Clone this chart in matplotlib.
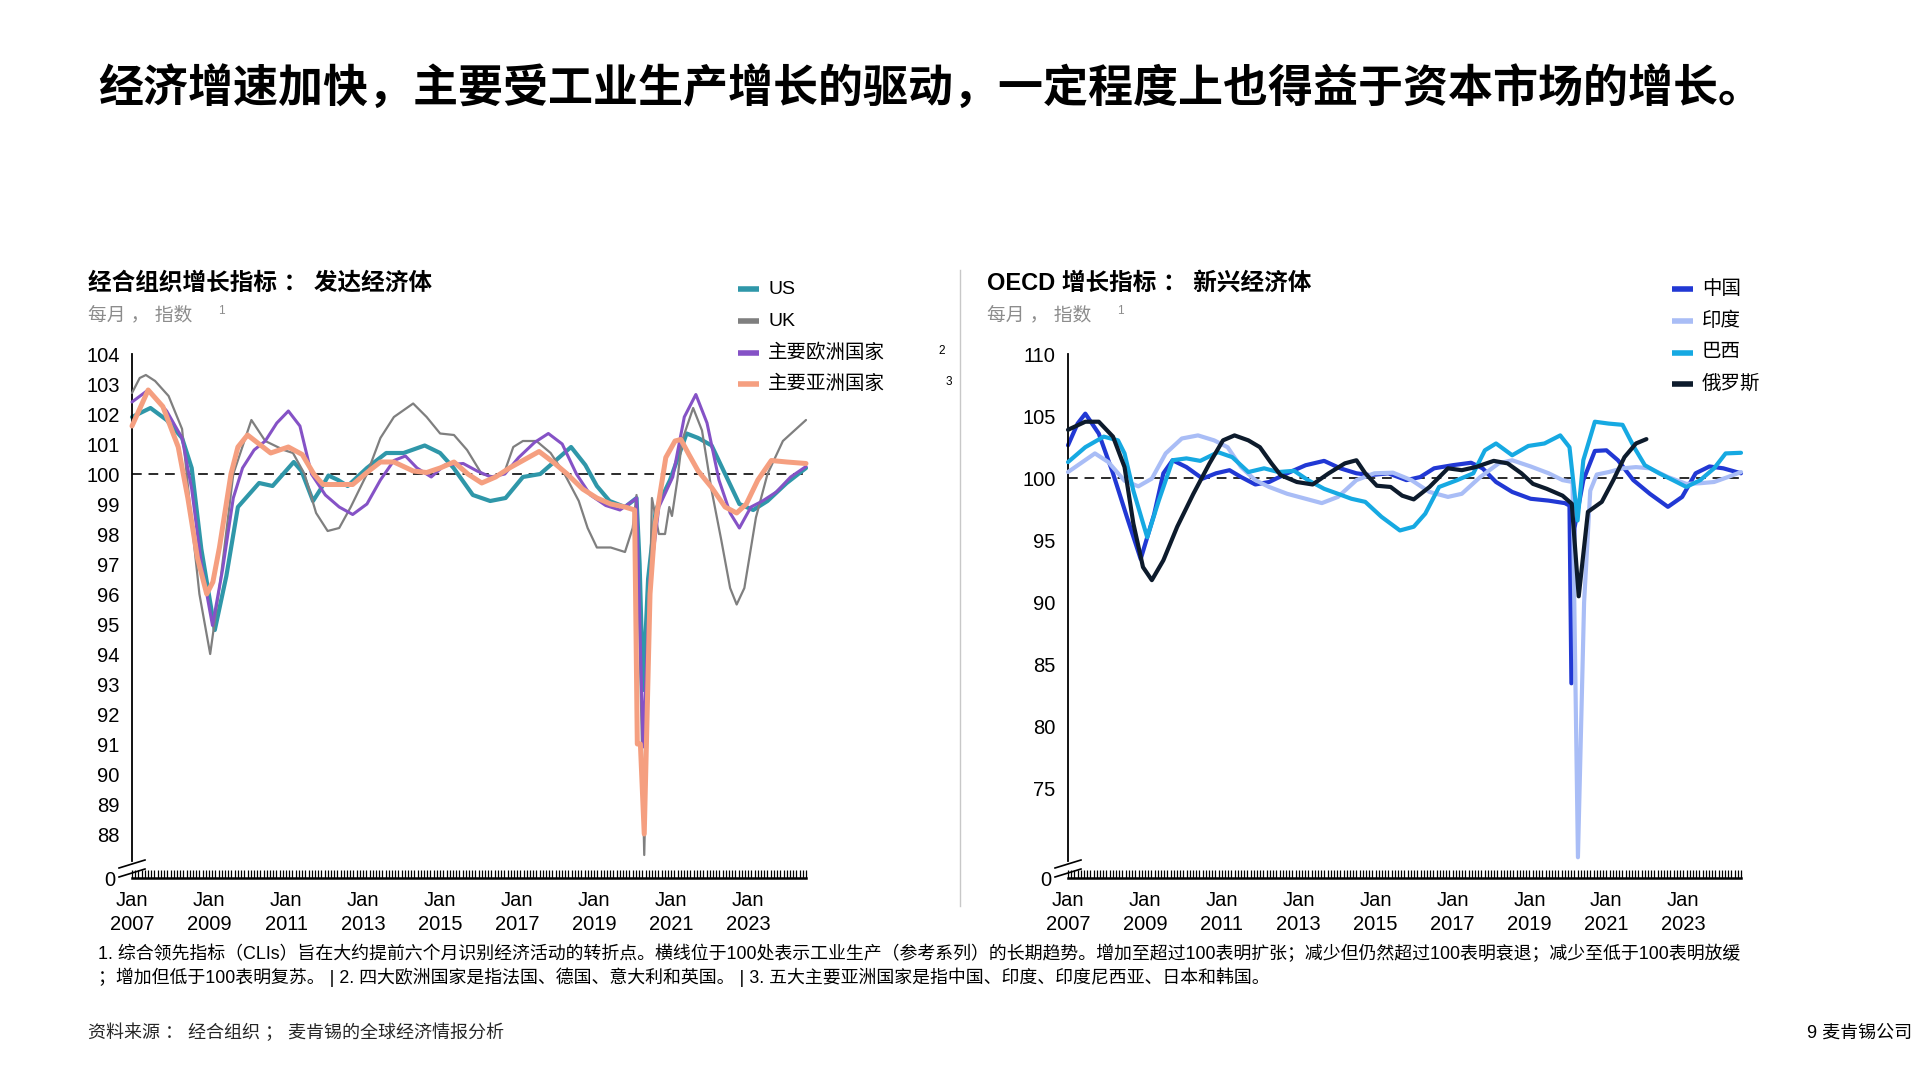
import matplotlib
matplotlib.use("Agg")
import matplotlib.pyplot as plt
from matplotlib.lines import Line2D
import numpy as np

plt.rcParams['font.family'] = ['Liberation Sans', 'Noto Sans CJK SC', 'DejaVu Sans']

W, H = 1920, 1080


def fx(x):
    return x / W


def fy(y):
    return 1 - y / H


title = '经济增速加快，主要受工业生产增长的驱动，一定程度上也得益于资本市场的增长。'
left_title = '经合组织增长指标 ： 发达经济体'
right_title = 'OECD 增长指标 ： 新兴经济体'
subtitle = '每月 ， 指数'
foot1 = ('1. 综合领先指标（CLIs）旨在大约提前六个月识别经济活动的转折点。横线位于100处表示工业生产（参考系列）的长期趋势。'
         '增加至超过100表明扩张；减少但仍然超过100表明衰退；减少至低于100表明放缓')
foot2 = '；增加但低于100表明复苏。 | 2. 四大欧洲国家是指法国、德国、意大利和英国。 | 3. 五大主要亚洲国家是指中国、印度、印度尼西亚、日本和韩国。'
source = '资料来源 ： 经合组织 ； 麦肯锡的全球经济情报分析'
page = '9 麦肯锡公司'

tick_years = list(range(2007, 2024, 2))
left_yticks = list(range(88, 105))
right_yticks = list(range(75, 111, 5))

# (decimal year, index value)
us = [(2007.0, 101.9), (2007.48, 102.2), (2007.9, 101.8), (2008.3, 101.2), (2008.55, 100.2), (2008.8, 97.5),
      (2009.15, 94.8), (2009.45, 96.6), (2009.75, 98.9), (2010.3, 99.7), (2010.65, 99.6), (2011.2, 100.4),
      (2011.4, 100.1), (2011.7, 99.1), (2011.9, 99.5), (2012.1, 99.95), (2012.35, 99.8), (2012.6, 99.6),
      (2013.1, 100.2), (2013.6, 100.7), (2014.05, 100.7), (2014.6, 100.95), (2015.0, 100.7), (2015.35, 100.2),
      (2015.85, 99.3), (2016.3, 99.1), (2016.7, 99.2), (2017.15, 99.9), (2017.6, 100.0), (2018.0, 100.45),
      (2018.4, 100.9), (2018.77, 100.3), (2019.07, 99.6), (2019.4, 99.1), (2019.8, 98.9), (2020.1, 99.2),
      (2020.18, 97.0), (2020.27, 92.8), (2020.4, 96.5), (2020.6, 98.8), (2020.97, 99.8), (2021.4, 101.35),
      (2021.7, 101.2), (2022.05, 100.95), (2022.4, 100.0), (2022.77, 99.0), (2023.13, 98.8), (2023.5, 99.1),
      (2024.0, 99.7), (2024.5, 100.2)]
uk = [(2007.0, 102.7), (2007.2, 103.2), (2007.36, 103.3), (2007.6, 103.1), (2007.95, 102.6), (2008.3, 101.5),
      (2008.5, 99.0), (2008.75, 96.0), (2009.03, 94.0), (2009.3, 96.5), (2009.63, 100.0), (2010.1, 101.8),
      (2010.46, 101.1), (2010.94, 100.8), (2011.18, 100.7), (2011.48, 100.0), (2011.78, 98.7), (2012.08, 98.1),
      (2012.38, 98.2), (2012.68, 98.9), (2013.1, 100.0), (2013.45, 101.2), (2013.8, 101.9), (2014.3, 102.35),
      (2014.65, 101.9), (2015.0, 101.35), (2015.36, 101.3), (2015.7, 100.8), (2016.08, 100.0), (2016.44, 99.9),
      (2016.68, 100.1), (2016.9, 100.9), (2017.15, 101.1), (2017.5, 101.1), (2017.87, 100.7), (2018.23, 100.0),
      (2018.6, 99.1), (2018.83, 98.2), (2019.07, 97.55), (2019.43, 97.55), (2019.8, 97.4), (2020.0, 98.2),
      (2020.1, 99.3), (2020.3, 87.3), (2020.5, 99.2), (2020.68, 98.0), (2020.84, 98.0), (2020.95, 98.9),
      (2021.02, 98.6), (2021.16, 99.8), (2021.28, 101.1), (2021.57, 102.2), (2021.8, 101.45), (2022.05, 99.45),
      (2022.3, 97.8), (2022.53, 96.2), (2022.7, 95.65), (2022.9, 96.2), (2023.2, 98.55), (2023.5, 100.0),
      (2023.9, 101.1), (2024.2, 101.45), (2024.5, 101.8)]
europe = [(2007.0, 102.4), (2007.42, 102.8), (2007.9, 102.1), (2008.3, 101.2), (2008.55, 99.5), (2008.8, 97.0),
          (2009.09, 94.95), (2009.35, 96.8), (2009.63, 99.2), (2009.87, 100.2), (2010.17, 100.8), (2010.46, 101.1),
          (2010.76, 101.7), (2011.06, 102.1), (2011.36, 101.6), (2011.66, 100.0), (2012.02, 99.3), (2012.38, 98.9),
          (2012.73, 98.65), (2013.1, 99.0), (2013.45, 99.8), (2013.8, 100.45), (2014.1, 100.6), (2014.4, 100.2),
          (2014.77, 99.9), (2015.12, 100.3), (2015.6, 100.35), (2015.96, 100.1), (2016.32, 99.9), (2016.68, 100.0),
          (2017.04, 100.55), (2017.45, 101.05), (2017.81, 101.35), (2018.17, 101.0), (2018.54, 100.0),
          (2018.9, 99.3), (2019.3, 98.95), (2019.67, 98.8), (2020.0, 99.1), (2020.1, 99.2), (2020.27, 90.9),
          (2020.45, 96.5), (2020.68, 98.9), (2021.04, 99.9), (2021.34, 101.9), (2021.64, 102.65), (2021.93, 101.7),
          (2022.24, 99.8), (2022.53, 98.7), (2022.77, 98.2), (2023.07, 98.9), (2023.37, 99.1), (2023.73, 99.4),
          (2024.1, 99.9), (2024.5, 100.25)]
asia = [(2007.0, 101.6), (2007.42, 102.8), (2007.8, 102.25), (2008.2, 100.9), (2008.45, 99.2), (2008.7, 97.2),
        (2008.94, 96.0), (2009.1, 96.4), (2009.27, 97.55), (2009.57, 100.0), (2009.75, 100.9), (2010.0, 101.3),
        (2010.3, 101.0), (2010.6, 100.7), (2011.06, 100.9), (2011.42, 100.65), (2011.72, 100.0), (2011.96, 99.65),
        (2012.38, 99.65), (2012.73, 99.65), (2013.1, 100.05), (2013.45, 100.4), (2013.8, 100.4), (2014.3, 100.1),
        (2014.65, 100.05), (2015.0, 100.2), (2015.36, 100.4), (2015.72, 100.0), (2016.08, 99.7), (2016.44, 99.9),
        (2016.8, 100.2), (2017.15, 100.45), (2017.57, 100.75), (2017.93, 100.4), (2018.3, 100.0), (2018.7, 99.5),
        (2019.07, 99.2), (2019.43, 99.0), (2019.8, 98.9), (2020.05, 98.8), (2020.12, 91.0), (2020.2, 91.0),
        (2020.3, 88.0), (2020.45, 96.0), (2020.58, 98.3), (2020.68, 99.1), (2020.86, 100.55), (2021.1, 101.1),
        (2021.25, 101.15), (2021.46, 100.65), (2021.7, 100.1), (2022.05, 99.55), (2022.4, 98.9), (2022.7, 98.7),
        (2022.95, 99.0), (2023.25, 99.8), (2023.6, 100.45), (2024.0, 100.4), (2024.5, 100.35)]

china = [(2007.0, 102.65), (2007.25, 104.4), (2007.45, 105.2), (2007.8, 103.6), (2008.17, 100.4), (2008.53, 96.9),
         (2008.89, 93.5), (2009.24, 97.1), (2009.48, 100.4), (2009.72, 101.45), (2010.08, 100.9), (2010.5, 99.97),
         (2010.85, 100.4), (2011.2, 100.65), (2011.5, 100.1), (2011.87, 99.5), (2012.23, 99.7), (2012.7, 100.4),
         (2013.18, 101.05), (2013.66, 101.4), (2014.08, 100.8), (2014.5, 100.4), (2014.85, 100.25), (2015.33, 100.4),
         (2015.8, 99.85), (2016.16, 100.1), (2016.52, 100.8), (2017.0, 101.05), (2017.48, 101.25), (2017.78, 100.8),
         (2018.13, 99.7), (2018.55, 98.9), (2019.03, 98.35), (2019.5, 98.2), (2019.92, 98.0), (2020.04, 97.8),
         (2020.09, 83.5), (2020.17, 96.0), (2020.4, 99.85), (2020.7, 102.2), (2021.0, 102.25), (2021.3, 101.45),
         (2021.7, 99.85), (2022.13, 98.75), (2022.6, 97.7), (2022.97, 98.5), (2023.32, 100.4), (2023.68, 100.95),
         (2024.04, 100.8), (2024.5, 100.4)]
india = [(2007.0, 100.5), (2007.7, 102.0), (2008.05, 101.3), (2008.47, 99.8), (2008.83, 99.35), (2009.18, 99.97),
         (2009.54, 102.0), (2009.96, 103.2), (2010.38, 103.45), (2010.8, 103.05), (2011.15, 102.5), (2011.5, 100.9),
         (2011.87, 99.85), (2012.23, 99.3), (2012.7, 98.75), (2013.18, 98.35), (2013.6, 98.0), (2014.02, 98.5),
         (2014.5, 99.85), (2014.97, 100.4), (2015.45, 100.45), (2015.93, 99.85), (2016.4, 98.9), (2016.88, 98.5),
         (2017.24, 98.75), (2017.72, 100.1), (2018.2, 101.2), (2018.55, 101.45), (2019.03, 100.95), (2019.5, 100.4),
         (2019.86, 99.85), (2020.12, 99.7), (2020.26, 69.5), (2020.42, 90.0), (2020.58, 99.0), (2020.75, 100.3),
         (2021.06, 100.5), (2021.42, 100.8), (2021.77, 100.9), (2022.13, 100.8), (2022.6, 100.1), (2023.08, 99.55),
         (2023.44, 99.6), (2023.8, 99.7), (2024.16, 100.1), (2024.5, 100.5)]
brazil = [(2007.0, 101.3), (2007.45, 102.5), (2007.93, 103.35), (2008.3, 103.05), (2008.47, 102.0), (2008.7, 99.0),
          (2009.06, 95.25), (2009.36, 98.2), (2009.72, 101.45), (2010.08, 101.6), (2010.44, 101.4), (2010.9, 102.1),
          (2011.27, 101.7), (2011.69, 100.5), (2012.1, 100.8), (2012.47, 100.5), (2012.88, 100.6), (2013.24, 99.85),
          (2013.66, 99.15), (2014.02, 98.75), (2014.37, 98.35), (2014.73, 98.1), (2015.15, 96.9), (2015.63, 95.8),
          (2015.99, 96.1), (2016.29, 97.15), (2016.65, 99.3), (2017.12, 99.85), (2017.54, 100.4), (2017.84, 102.25),
          (2018.13, 102.8), (2018.55, 101.85), (2018.97, 102.6), (2019.39, 102.8), (2019.8, 103.45), (2020.04, 102.5),
          (2020.25, 96.6), (2020.4, 101.45), (2020.7, 104.55), (2021.06, 104.4), (2021.42, 104.3), (2021.72, 102.5),
          (2022.0, 101.05), (2022.37, 100.4), (2022.73, 99.85), (2023.08, 99.3), (2023.44, 99.85), (2023.8, 100.8),
          (2024.1, 102.0), (2024.5, 102.05)]
russia = [(2007.0, 103.9), (2007.45, 104.55), (2007.8, 104.55), (2008.17, 103.35), (2008.47, 100.9), (2008.7, 96.35),
          (2008.95, 92.85), (2009.18, 91.8), (2009.48, 93.4), (2009.84, 96.1), (2010.26, 98.75), (2010.68, 101.2),
          (2011.03, 103.05), (2011.33, 103.45), (2011.69, 103.05), (2011.99, 102.5), (2012.29, 101.2), (2012.53, 100.25),
          (2012.95, 99.7), (2013.36, 99.5), (2013.78, 100.4), (2014.2, 101.2), (2014.5, 101.45), (2014.73, 100.4),
          (2015.03, 99.4), (2015.39, 99.3), (2015.69, 98.6), (2015.99, 98.3), (2016.4, 99.3), (2016.88, 100.8),
          (2017.24, 100.65), (2017.6, 100.9), (2018.07, 101.4), (2018.43, 101.2), (2018.79, 100.4), (2019.09, 99.55),
          (2019.45, 99.15), (2019.86, 98.6), (2020.1, 97.95), (2020.28, 90.5), (2020.52, 97.3), (2020.88, 98.1),
          (2021.18, 99.85), (2021.47, 101.7), (2021.77, 102.8), (2022.04, 103.15)]

# name, data, colour, line width, legend superscript
left_series = [('US', us, '#2f97a9', 3.0, ''), ('UK', uk, '#7f7f7f', 1.6, ''),
               ('主要欧洲国家', europe, '#8552c6', 2.2, '2'), ('主要亚洲国家', asia, '#f59f80', 3.6, '3')]
right_series = [('中国', china, '#2138d4', 3.0, ''), ('印度', india, '#a9bdf6', 3.0, ''),
                ('巴西', brazil, '#16a9e2', 3.0, ''), ('俄罗斯', russia, '#0d1b2c', 3.0, '')]
left_draw_order = [1, 0, 2, 3]
right_draw_order = [1, 2, 0, 3]

fig = plt.figure(figsize=(19.2, 10.8), dpi=100)

fig.text(fx(98), fy(88), title, fontsize=32.4, fontweight='bold', va='center')


def draw_panel(x0, x1, series, order, ylim, yticks, heading, head, legend_x):
    ax = fig.add_axes([fx(x0), fy(861), (x1 - x0) / W, (861 - 354) / H])
    ax.axhline(100, color='#2b2b2b', lw=1.4, ls=(0, (5, 3.5)), zorder=1)
    for i in order:
        name, pts, color, lw, sup = series[i]
        xs, ys = zip(*pts)
        ax.plot(xs, ys, color=color, lw=lw, solid_joinstyle='round', solid_capstyle='round',
                clip_on=False, zorder=2 + i)
    ax.set_xlim(2007, 2024.5)
    ax.set_ylim(*ylim)
    ax.set_yticks(yticks)
    ax.tick_params(axis='y', length=0, pad=9, labelsize=14.5)
    ax.set_xticks([])
    for s in ['top', 'right', 'bottom']:
        ax.spines[s].set_visible(False)
    ax.spines['left'].set_linewidth(1.3)
    ax.patch.set_alpha(0)

    # broken baseline with monthly comb
    axb = fig.add_axes([fx(x0), fy(878), (x1 - x0) / W, 8 / H])
    axb.set_xlim(2007, 2024.5)
    axb.set_ylim(0, 1)
    axb.set_xticks(np.arange(2007, 2024.5 + 1e-6, 1 / 12), minor=True)
    axb.set_xticks(tick_years)
    axb.set_xticklabels([f'Jan\n{y}' for y in tick_years], linespacing=1.35)
    axb.tick_params(axis='x', which='both', direction='in', length=6, width=0.9)
    axb.tick_params(axis='x', which='major', labelsize=14.5, pad=9)
    axb.set_yticks([0])
    axb.set_yticklabels(['0'])
    axb.tick_params(axis='y', length=0, pad=12, labelsize=14.5)
    for s in ['top', 'right', 'left']:
        axb.spines[s].set_visible(False)
    axb.spines['bottom'].set_linewidth(1.8)
    axb.patch.set_alpha(0)
    for y0, y1 in [(868, 860), (877, 869)]:
        fig.add_artist(Line2D([fx(x0 - 13), fx(x0 + 13)], [fy(y0), fy(y1)], color='black', lw=1.2))

    # headings
    fig.text(fx(head), fy(283), heading, fontsize=17, fontweight='bold', va='center')
    fig.text(fx(head), fy(315), subtitle, fontsize=13.5, color='#8c8c8c', va='center')
    fig.text(fx(head + 130), fy(311), '1', fontsize=8.5, color='#8c8c8c', va='center')

    # legend
    rows = [289, 321, 353, 384]
    for (name, pts, color, lw, sup), y in zip(series, rows):
        fig.add_artist(Line2D([fx(legend_x), fx(legend_x + 21)], [fy(y), fy(y)], color=color, lw=4,
                              solid_capstyle='butt'))
        fig.text(fx(legend_x + 30), fy(y), name, fontsize=14, va='center')
        if sup:
            fig.text(fx(legend_x + 200 + (8 if sup == '3' else 0)), fy(y - 2), sup, fontsize=8.5, va='center')
    return ax


draw_panel(132, 806, left_series, left_draw_order, (87.1, 104), left_yticks, left_title, 88, 738)
draw_panel(1068, 1741, right_series, right_draw_order, (69.2, 110), right_yticks, right_title, 987, 1672)

fig.add_artist(Line2D([fx(960), fx(960)], [fy(270), fy(906)], color='#c8c8c8', lw=1.0))

fig.text(fx(98), fy(954), foot1, fontsize=12.9, va='center')
fig.text(fx(98), fy(977), foot2, fontsize=12.9, va='center')
fig.text(fx(88), fy(1033), source, fontsize=13, va='center', color='#262626')
fig.text(fx(1912), fy(1033), page, fontsize=13, va='center', ha='right')

fig.savefig('out.png', dpi=100, facecolor='white')
